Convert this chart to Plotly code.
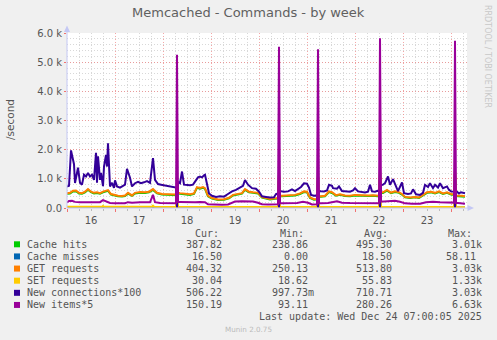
import pandas as pd
import plotly.graph_objects as go

START = pd.Timestamp("2025-12-16 00:00")
END = pd.Timestamp("2025-12-24 08:00")

# ---------------- data (hours since START, value per second) ----------------
req_hours = [0, 1.5, 3, 4.5, 6, 7.5, 9, 10.5, 12, 13.5,
             15, 16.5, 18, 19.5, 20.5, 22, 23.5, 25.5, 27.5, 29,
             30.5, 32.5, 34, 36.5, 39, 41, 43, 45, 47.5, 50,
             52.5, 54.5, 55, 55.5, 56.5, 59, 61.5, 63.5, 65, 66.5,
             68, 69, 70.5, 72.5, 75.5, 78.5, 81, 83, 85, 87.5,
             89, 91, 93, 95.5, 97.5, 99.5, 101.5, 104, 105.5, 106,
             106.5, 107.5, 109.5, 112, 114, 116.5, 118.5, 120, 121.5, 123.5,
             125, 125.5, 126, 127, 129, 131, 132.5, 134.5, 136.5, 139,
             141.5, 144, 146.5, 149, 151, 153, 155, 156, 156.5, 157,
             158, 160, 162, 164, 166, 167.5, 169, 171.5, 174, 176,
             178, 180, 182, 184, 186, 188, 190, 192, 193.5, 194,
             194.5, 195.5, 197.5, 199]

get_values = [510, 520, 590, 600, 520, 510, 560, 650, 560, 520,
              540, 510, 560, 600, 615, 480, 450, 420, 410, 430,
              520, 430, 520, 550, 540, 560, 650, 520, 480, 470,
              470, 460, 700, 520, 510, 500, 470, 500, 717, 690,
              720, 680, 420, 340, 290, 300, 350, 450, 480, 510,
              650, 560, 540, 520, 370, 340, 310, 330, 340, 1200,
              420, 420, 430, 440, 450, 500, 570, 560, 360, 300,
              310, 1150, 400, 400, 420, 570, 540, 440, 470, 430,
              420, 450, 440, 420, 430, 440, 420, 420, 1280, 540,
              540, 620, 530, 570, 540, 480, 380, 360, 380, 360,
              450, 540, 560, 520, 570, 500, 540, 480, 470, 1300,
              430, 430, 420, 404]

hits_values = [490, 500, 565, 575, 500, 490, 535, 625, 540, 500,
               515, 490, 535, 575, 590, 460, 430, 400, 395, 410,
               495, 415, 495, 525, 515, 535, 620, 500, 460, 450,
               450, 440, 680, 500, 490, 480, 450, 480, 690, 665,
               695, 655, 400, 325, 275, 285, 335, 430, 460, 490,
               620, 540, 520, 500, 355, 325, 295, 315, 325, 1170,
               400, 400, 410, 420, 430, 480, 545, 540, 345, 285,
               295, 1120, 385, 385, 400, 550, 515, 420, 450, 410,
               400, 430, 420, 400, 410, 420, 400, 400, 1250, 520,
               515, 595, 505, 545, 520, 460, 365, 345, 365, 345,
               430, 520, 535, 500, 545, 480, 520, 460, 450, 1270,
               410, 410, 405, 388]

conn_hours = [0, 1, 2, 3, 3.5, 4, 5, 5.5, 6.5, 7.5,
              8.5, 9.5, 10.5, 11.5, 12.5, 13.5, 14.5, 15, 15.5, 16.5,
              17, 18, 18.5, 19.5, 20, 20.5, 21.5, 22.5, 23.5, 24,
              25, 26.5, 28, 29, 30, 31.5, 32.5, 34, 35.5, 37,
              38.5, 40, 41.5, 43, 44, 45.5, 47, 48.5, 50, 51.5,
              53, 54.5, 55, 55.5, 56.5, 57.5, 58.5, 60, 61.5, 63,
              64.5, 65.5, 66.5, 67.5, 68.5, 69, 70, 71, 72.5, 74.5,
              76.5, 78.5, 80.5, 82.5, 84.5, 86.5, 88, 89, 90.5, 92.5,
              94.5, 96, 97.5, 99.5, 101.5, 103.5, 104.5, 105.5, 106, 106.5,
              107, 108.5, 110.5, 112.5, 114, 115.5, 117, 118.5, 120, 121,
              122, 123.5, 125, 125.5, 126, 127, 128.5, 130, 131, 132.5,
              133, 135, 136, 137.5, 139.5, 141.5, 143, 144, 145.5, 147.5,
              149, 150.5, 151.5, 152.5, 154, 155, 156, 156.5, 157, 158,
              159, 160.5, 161.5, 163, 165, 165.5, 167.5, 168.5, 170.5, 172,
              173, 174.5, 176.5, 178, 179, 180.5, 181.5, 183, 184, 185.5,
              186.5, 188, 190, 191, 192, 193.5, 194, 194.5, 195, 196,
              197, 198, 199]

conn_values = [740, 760, 1975, 1700, 1500, 855, 1310, 1380, 865, 800,
               1140, 1080, 1200, 1080, 1140, 965, 1890, 865, 1770, 965,
               1200, 750, 1420, 1820, 1420, 2220, 740, 865, 690, 950,
               740, 700, 760, 800, 1345, 1035, 740, 850, 900, 850,
               880, 920, 860, 1710, 965, 820, 800, 780, 760, 740,
               720, 700, 20, 900, 850, 1250, 800, 790, 780, 800,
               970, 1050, 1080, 1050, 1120, 1140, 820, 500, 420, 380,
               400, 390, 480, 570, 620, 700, 760, 960, 800, 680,
               660, 560, 400, 380, 360, 370, 480, 500, 20, 580,
               570, 560, 570, 640, 580, 650, 720, 845, 830, 700,
               450, 420, 430, 20, 580, 575, 570, 600, 795, 760,
               680, 660, 740, 580, 570, 560, 600, 680, 570, 540,
               530, 560, 795, 570, 560, 580, 600, 20, 780, 800,
               850, 1080, 795, 990, 700, 580, 875, 510, 480, 500,
               640, 470, 450, 520, 795, 720, 850, 680, 795, 700,
               850, 680, 740, 620, 570, 560, 20, 560, 560, 500,
               540, 520, 506]

item_hours = [0, 1, 2.5, 4, 6.5, 9, 11.5, 14, 16.5, 18,
              19.5, 21.5, 24, 26.5, 29, 30.5, 32.5, 36.5, 40, 41.5,
              43, 44, 46.5, 49, 51.5, 54, 54.5, 55, 55.5, 56.5,
              59, 61.5, 64, 66.5, 69, 70.5, 74, 77.5, 80.5, 84,
              87.5, 91, 93, 95.5, 97.5, 100.5, 103.5, 105.5, 106, 106.5,
              107.5, 111.5, 115, 118, 120.5, 122.5, 125, 125.5, 126, 127,
              130.5, 135, 137.5, 141.5, 146.5, 151.5, 154.5, 156, 156.5, 157,
              158.5, 161.5, 164, 166.5, 169, 172.5, 176.5, 179.5, 183, 186.5,
              190.5, 192.5, 193.5, 194, 194.5, 195.5, 197.5, 199]

item_values = [190, 240, 247, 210, 195, 200, 200, 195, 200, 270,
               230, 170, 165, 170, 165, 200, 180, 195, 200, 195,
               450, 200, 170, 165, 165, 160, 160, 5250, 210, 210,
               200, 190, 200, 205, 200, 130, 110, 110, 120, 220,
               230, 240, 220, 180, 130, 120, 130, 130, 5530, 165,
               165, 170, 175, 210, 180, 120, 125, 5440, 160, 160,
               170, 230, 180, 170, 170, 170, 165, 165, 5820, 220,
               220, 230, 250, 215, 160, 150, 150, 200, 215, 200,
               200, 190, 185, 5730, 170, 170, 165, 150]

set_hours = [0, 8, 17.5, 18, 18.5, 30, 42.5, 43, 43.5, 54.5,
             55, 55.5, 70, 90, 105.5, 106, 106.5, 125, 125.5, 126,
             140, 156, 156.5, 157, 175, 193.5, 194, 194.5, 199]
set_values = [40, 38, 40, 75, 40, 45, 42, 80, 42, 35,
              650, 40, 40, 38, 35, 1150, 40, 35, 1100, 40,
              38, 35, 1250, 40, 38, 35, 1250, 30, 30]

miss_hours = [0, 54.5, 55, 55.5, 105.5, 106, 106.5, 125, 125.5, 126,
              156, 156.5, 157, 193.5, 194, 194.5, 199]
miss_values = [18, 18, 58, 17, 18, 55, 17, 18, 50, 17,
               18, 57, 17, 17, 52, 16, 16.5]

# legend table
legend_names = ["Cache hits", "Cache misses", "GET requests", "SET requests",
                "New connections*100", "New items*5"]
legend_colors = ["#00CC00", "#0066B3", "#FF8000", "#FFCC00", "#330099", "#990099"]
cur_text = ["387.82", "16.50", "404.32", "30.04", "506.22", "150.19"]
min_text = ["238.86", "0.00", "250.13", "18.62", "997.73m", "93.11"]
avg_text = ["495.30", "18.50", "513.80", "55.83", "710.71", "280.26"]
max_text = ["3.01k", "58.11", "3.03k", "1.33k", "3.03k", "6.63k"]

y_tick_vals = [0, 1000, 2000, 3000, 4000, 5000, 6000]
y_tick_text = ["0.0", "1.0 k", "2.0 k", "3.0 k", "4.0 k", "5.0 k", "6.0 k"]

# ---------------- figure ----------------
def when(hours):
    return START + pd.to_timedelta(hours, unit="h")

series = [
    (legend_names[0], req_hours, hits_values, legend_colors[0]),
    (legend_names[1], miss_hours, miss_values, legend_colors[1]),
    (legend_names[2], req_hours, get_values, legend_colors[2]),
    (legend_names[3], set_hours, set_values, legend_colors[3]),
    (legend_names[4], conn_hours, conn_values, legend_colors[4]),
    (legend_names[5], item_hours, item_values, legend_colors[5]),
]

fig = go.Figure()
for name, hrs, vals, col in series:
    fig.add_trace(go.Scatter(x=when(hrs), y=vals, name=name, mode="lines",
                             line=dict(color=col, width=2),
                             hoverinfo="skip", showlegend=False))

L, T, W, H = 67, 33, 400, 175
FIG_W, FIG_H = 497, 340


def fx(px):
    return (px - L) / W


def fy(py):
    return (T + H - py) / H


TXT = "#555555"
SANS = "DejaVu Sans"
MONO = "DejaVu Sans Mono"
MAJOR_GRID = "rgba(240,130,130,0.7)"
MINOR_GRID = "rgba(200,200,200,0.7)"
AXIS_COL = "#C4C8F4"

annotations = []


def label(text, px, py, size, color=TXT, family=SANS, xanchor="left",
          yanchor="middle", angle=0):
    annotations.append(dict(text=text, x=fx(px), y=fy(py), xref="paper",
                            yref="paper", showarrow=False, xanchor=xanchor,
                            yanchor=yanchor, textangle=angle, borderpad=0,
                            font=dict(family=family, size=size, color=color)))


label("Memcached - Commands - by week", 248.5, 13, 13, color="#606060",
      xanchor="center")
label("/second", 10, 120, 10.5, xanchor="center", angle=-90)
label("RRDTOOL / TOBI OETIKER", 488, 56, 8, color="#C8C8C8",
      xanchor="center", angle=90)

# legend header
for head, left in zip(["Cur:", "Min:", "Avg:", "Max:"], [194.3, 278.7, 363.3, 446.7]):
    label(head, left, 233.3, 10, family=MONO)

shapes = []
row_y0, row_dy = 244.3, 12.13
col_edges = [223.3, 308.7, 392.7, 476.7]
for i, name in enumerate(legend_names):
    ry = row_y0 + i * row_dy
    shapes.append(dict(type="rect", xref="paper", yref="paper",
                       x0=fx(14), x1=fx(20), y0=fy(ry - 3), y1=fy(ry + 3),
                       fillcolor=legend_colors[i], line=dict(width=0)))
    label(name, 26.3, ry, 10, family=MONO)
    for col, edge in zip([cur_text, min_text, avg_text, max_text], col_edges):
        t = col[i]
        right = edge + (6.0 if t[-1].isalpha() else 0)
        label(t, right, ry, 10, family=MONO, xanchor="right")

label("Last update: Wed Dec 24 07:00:05 2025", 482.7, 316.7, 10,
      family=MONO, xanchor="right")
label("Munin 2.0.75", 248.5, 329, 7.2, color="#BBBBBB", xanchor="center")

# axis lines with arrow heads
shapes.append(dict(type="line", xref="paper", yref="paper", x0=fx(67), x1=fx(67),
                   y0=fy(208), y1=fy(29), line=dict(color=AXIS_COL, width=1)))
shapes.append(dict(type="line", xref="paper", yref="paper", x0=fx(67), x1=fx(469),
                   y0=fy(208), y1=fy(208), line=dict(color=AXIS_COL, width=1)))
up = "M {:.5f},{:.5f} L {:.5f},{:.5f} L {:.5f},{:.5f} Z".format(
    fx(67), fy(25.5), fx(64), fy(32), fx(70), fy(32))
right_arrow = "M {:.5f},{:.5f} L {:.5f},{:.5f} L {:.5f},{:.5f} Z".format(
    fx(474), fy(208), fx(467.5), fy(205), fx(467.5), fy(211))
for p in (up, right_arrow):
    shapes.append(dict(type="path", xref="paper", yref="paper", path=p,
                       fillcolor=AXIS_COL, line=dict(width=0)))

fig.update_layout(
    width=FIG_W, height=FIG_H,
    margin=dict(l=L, r=FIG_W - L - W, t=T, b=FIG_H - T - H, pad=0),
    paper_bgcolor="#F0F0F0", plot_bgcolor="#FFFFFF",
    showlegend=False,
    annotations=annotations,
    shapes=shapes,
    xaxis=dict(
        type="date", range=[START, END], tick0=START, dtick=86400000,
        tickformat="%d", ticklabelmode="period",
        showgrid=True, gridcolor=MAJOR_GRID, griddash="1px,2px", gridwidth=1,
        ticks="outside", ticklen=3, tickcolor="rgba(240,100,100,0.9)",
        showline=False, zeroline=False,
        tickfont=dict(family=SANS, size=10, color=TXT),
        minor=dict(dtick=21600000, tick0=START, showgrid=True,
                   gridcolor=MINOR_GRID, griddash="1px,2px", gridwidth=1,
                   ticks="outside", ticklen=2, tickcolor="#BBBBBB"),
    ),
    yaxis=dict(
        range=[0, 6000], tickmode="array", tickvals=y_tick_vals,
        ticktext=y_tick_text,
        showgrid=True, gridcolor=MAJOR_GRID, griddash="1px,2px", gridwidth=1,
        ticks="outside", ticklen=2, tickcolor="rgba(240,100,100,0.9)",
        showline=False, zeroline=False,
        tickfont=dict(family=SANS, size=10, color=TXT),
        minor=dict(tickmode="linear", tick0=0, dtick=200, showgrid=True,
                   gridcolor=MINOR_GRID, griddash="1px,2px", gridwidth=1),
    ),
)

fig.write_html("out.html")
